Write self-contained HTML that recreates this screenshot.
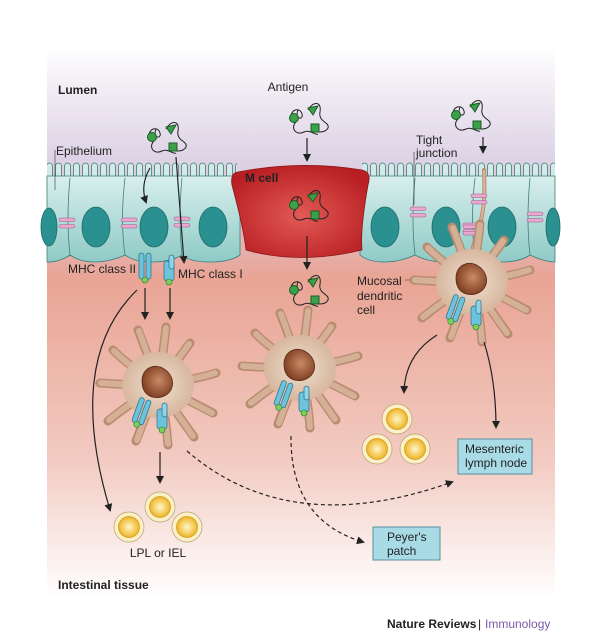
<!DOCTYPE html>
<html><head><meta charset="utf-8"><style>
html,body{margin:0;padding:0;background:#fff;width:600px;height:637px;overflow:hidden}
svg{display:block}
text{font-family:"Liberation Sans",Arial,sans-serif;font-size:12px;fill:#222}
</style></head><body>
<svg width="600" height="637" viewBox="0 0 600 637" xmlns="http://www.w3.org/2000/svg">
<defs>
<linearGradient id="bg" x1="0" y1="0" x2="0" y2="1">
<stop offset="0" stop-color="#ffffff"/><stop offset="0.06" stop-color="#f4f0f6"/>
<stop offset="0.2" stop-color="#ddd3e6"/><stop offset="0.34" stop-color="#e4b6b8"/>
<stop offset="0.42" stop-color="#e9a494"/><stop offset="0.75" stop-color="#f2cbc2"/>
<stop offset="1" stop-color="#ffffff"/></linearGradient>
<linearGradient id="ep" x1="0" y1="0" x2="0" y2="1">
<stop offset="0" stop-color="#d8efed"/><stop offset="1" stop-color="#8fcac6"/></linearGradient>
<radialGradient id="mc" cx="0.5" cy="0.55" r="0.6"><stop offset="0" stop-color="#e25a55"/><stop offset="1" stop-color="#b81e22"/></radialGradient>
<radialGradient id="nuc" cx="0.55" cy="0.45" r="0.6"><stop offset="0" stop-color="#c98a66"/><stop offset="1" stop-color="#7a3a1e"/></radialGradient>
<radialGradient id="dcb" cx="0.5" cy="0.5" r="0.6"><stop offset="0" stop-color="#f0e0d0"/><stop offset="1" stop-color="#d2ae94"/></radialGradient>
<radialGradient id="ly" cx="0.5" cy="0.5" r="0.5"><stop offset="0" stop-color="#fff6c8"/><stop offset="0.8" stop-color="#f2c040"/><stop offset="1" stop-color="#d9a020"/></radialGradient>
<pattern id="mv" x="0" y="0" width="9" height="20" patternUnits="userSpaceOnUse">
<path d="M1.5 20 V6 a3 3 0 0 1 6 0 V20" fill="#cfeae7" stroke="#3f7f7c" stroke-width="0.8"/></pattern>
<marker id="ah" markerWidth="8" markerHeight="8" refX="6" refY="4" orient="auto" markerUnits="userSpaceOnUse"><path d="M0 0 L8 4 L0 8 z" fill="#222"/></marker>
<g id="ag">
<path d="M-18 2 c-4-10 8-14 10-6 c2 6 -8 6 -4-4 M-2-8 c4-8 14-10 12 2 c-2 10 10 10 8 16 c-3 6-14 4-16 2 M-14 4 c-6 6 0 14 8 10 c6-3 12 4 14 2" fill="none" stroke="#222" stroke-width="1"/>
<circle cx="-16" cy="0" r="4.5" fill="#3aa04a" stroke="#1d5a24"/>
<rect x="1" y="6" width="8" height="8" fill="#3aa04a" stroke="#1d5a24"/>
<path d="M-2-10 L8-12 L3-3 z" fill="#3aa04a" stroke="#1d5a24"/>
</g>
<g id="mhc2"><rect x="-6" y="0" width="5" height="26" rx="2.5" fill="#6cc3dc" stroke="#2a6f86" stroke-width="0.7"/><rect x="1" y="0" width="5" height="26" rx="2.5" fill="#6cc3dc" stroke="#2a6f86" stroke-width="0.7"/><circle cx="0" cy="27" r="3" fill="#7ad05a" stroke="#2a7a2a" stroke-width="0.6"/></g>
<g id="mhc1"><rect x="-5" y="6" width="10" height="20" rx="3" fill="#6cc3dc" stroke="#2a6f86" stroke-width="0.7"/><rect x="0" y="0" width="5" height="14" rx="2.5" fill="#8fd3e6" stroke="#2a6f86" stroke-width="0.7"/><circle cx="0" cy="27" r="3" fill="#7ad05a" stroke="#2a7a2a" stroke-width="0.6"/></g>
<g id="dc">
<g stroke="#b98c70" stroke-width="9" stroke-linecap="round" fill="none">
<path d="M0 0 Q-30-20 -45-35"/><path d="M0 0 Q-10-30 -20-55"/><path d="M0 0 Q5-30 8-58"/><path d="M0 0 Q20-25 32-42"/><path d="M0 0 Q35-5 58-12"/><path d="M0 0 Q30 15 55 28"/><path d="M0 0 Q20 30 36 52"/><path d="M0 0 Q8 30 10 60"/><path d="M0 0 Q-12 30 -22 56"/><path d="M0 0 Q-30 20 -50 36"/><path d="M0 0 Q-30 0 -58 -2"/>
</g>
<g stroke="#d4b096" stroke-width="6" stroke-linecap="round" fill="none">
<path d="M0 0 Q-30-20 -44-34"/><path d="M0 0 Q-10-30 -19-54"/><path d="M0 0 Q5-30 8-57"/><path d="M0 0 Q20-25 31-41"/><path d="M0 0 Q35-5 57-12"/><path d="M0 0 Q30 15 54 28"/><path d="M0 0 Q20 30 35 51"/><path d="M0 0 Q8 30 10 59"/><path d="M0 0 Q-12 30 -21 55"/><path d="M0 0 Q-30 20 -49 35"/><path d="M0 0 Q-30 0 -57 -2"/>
</g>
<ellipse rx="36" ry="33" fill="url(#dcb)"/>
<path d="M-16-4 c0-14 14-18 22-12 c10 6 12 20 2 26 c-10 6-24 2-24-14z" fill="url(#nuc)" stroke="#5a2a14" stroke-width="0.8"/>
<g transform="translate(-12,14) rotate(20)"><use href="#mhc2"/></g>
<g transform="translate(4,18)"><use href="#mhc1"/></g>
</g>
<g id="ly1"><circle r="15" fill="#fbf0c8" stroke="#b8a070" stroke-width="0.7"/><circle r="11" fill="url(#ly)"/></g>
<g id="tj"><rect x="-8" y="-5" width="16" height="3.5" rx="1.5" fill="#e8a8d0" stroke="#9a5a86" stroke-width="0.5"/><rect x="-8" y="1.5" width="16" height="3.5" rx="1.5" fill="#e8a8d0" stroke="#9a5a86" stroke-width="0.5"/></g>
</defs>

<rect x="47" y="48" width="508" height="550" fill="url(#bg)"/>

<!-- epithelium -->
<rect x="47" y="160" width="190" height="20" fill="url(#mv)"/>
<rect x="362" y="160" width="193" height="20" fill="url(#mv)"/>
<path d="M47 176 H240 V255 Q230 262 210 262 Q190 262 182 255 Q170 262 152 262 Q135 262 125 255 Q110 262 95 262 Q80 262 70 255 Q60 262 47 262 Z" fill="url(#ep)" stroke="#3f7f7c" stroke-width="0.8"/>
<path d="M360 176 H555 V262 Q545 262 530 255 Q520 262 502 262 Q485 262 475 255 Q462 262 445 262 Q428 262 415 255 Q400 262 385 262 Q368 262 360 255 Z" fill="url(#ep)" stroke="#3f7f7c" stroke-width="0.8"/>
<g stroke="#3f7f7c" stroke-width="0.8" fill="none">
<path d="M70 178 Q66 220 70 255"/><path d="M125 178 Q120 220 125 255"/><path d="M182 178 Q178 220 182 255"/>
<path d="M415 178 Q411 220 415 255"/><path d="M475 178 Q470 220 475 255"/><path d="M530 178 Q526 220 530 255"/>
</g>
<g fill="#2a9090" stroke="#1e6a6a" stroke-width="0.8">
<ellipse cx="49" cy="227" rx="8" ry="19"/><ellipse cx="96" cy="227" rx="14" ry="20"/><ellipse cx="154" cy="227" rx="14" ry="20"/><ellipse cx="213" cy="227" rx="14" ry="20"/>
<ellipse cx="385" cy="227" rx="14" ry="20"/><ellipse cx="446" cy="227" rx="14" ry="20"/><ellipse cx="502" cy="227" rx="14" ry="20"/><ellipse cx="553" cy="227" rx="7" ry="19"/>
</g>
<use href="#tj" x="67" y="223"/><use href="#tj" x="129" y="223"/><use href="#tj" x="182" y="222"/>
<use href="#tj" x="418" y="212"/><use href="#tj" x="471" y="228"/><use href="#tj" x="535" y="217"/>
<!-- M cell -->
<path d="M238 172 Q300 160 362 170 Q372 172 368 185 Q360 230 362 250 Q300 265 246 250 Q244 230 232 185 Q230 173 238 172 Z" fill="url(#mc)" stroke="#8a1a1a" stroke-width="0.8"/>

<!-- labels -->
<text x="58" y="94" font-weight="bold">Lumen</text>
<text x="288" y="91" text-anchor="middle">Antigen</text>
<text x="56" y="155">Epithelium</text>
<path d="M55 150 V190" stroke="#333" stroke-width="0.6"/>
<text x="416" y="144">Tight</text><text x="416" y="157">junction</text>
<path d="M414 152 V205" stroke="#333" stroke-width="0.6"/>
<text x="245" y="182" font-weight="bold">M cell</text>
<text x="68" y="273">MHC class II</text>
<text x="178" y="278">MHC class I</text>
<text x="357" y="285">Mucosal</text><text x="357" y="300">dendritic</text><text x="357" y="314">cell</text>
<path d="M405 280 H425" stroke="#333" stroke-width="0.6"/>
<text x="158" y="557" text-anchor="middle">LPL or IEL</text>
<text x="58" y="589" font-weight="bold">Intestinal tissue</text>

<!-- antigens -->
<use href="#ag" x="168" y="137"/><use href="#ag" x="310" y="118"/><use href="#ag" x="472" y="115"/>
<use href="#ag" x="310" y="205"/><use href="#ag" x="310" y="290"/>

<!-- DC3 process through epithelium -->
<path d="M484 170 Q486 210 478 230 Q470 255 470 265" stroke="#b88a6e" stroke-width="4" fill="none" stroke-linecap="round"/>
<path d="M484 170 Q486 210 478 230 Q470 255 470 265" stroke="#dcb8a0" stroke-width="2" fill="none"/>
<use href="#tj" x="479" y="199"/><use href="#tj" x="471" y="230"/>

<!-- MHC on epithelium -->
<use href="#mhc2" x="145" y="253"/><use href="#mhc1" x="169" y="255"/>

<!-- dendritic cells -->
<use href="#dc" x="158" y="385"/>
<use href="#dc" x="300" y="368"/>
<use href="#dc" x="472" y="282"/>

<!-- lymphocytes -->
<use href="#ly1" x="129" y="527"/><use href="#ly1" x="160" y="507"/><use href="#ly1" x="187" y="527"/>
<use href="#ly1" x="397" y="419"/><use href="#ly1" x="377" y="449"/><use href="#ly1" x="415" y="449"/>

<!-- boxes -->
<rect x="458" y="439" width="74" height="35" fill="#a9dbe6" stroke="#5a8f9c"/>
<text x="465" y="453">Mesenteric</text><text x="465" y="467">lymph node</text>
<rect x="373" y="527" width="67" height="33" fill="#a9dbe6" stroke="#5a8f9c"/>
<text x="387" y="541">Peyer's</text><text x="387" y="555">patch</text>

<!-- arrows -->
<g stroke="#222" stroke-width="1.2" fill="none" marker-end="url(#ah)">
<path d="M307 138 V160"/><path d="M307 236 V268"/><path d="M483 137 V152"/>
<path d="M150 168 Q140 185 146 202"/><path d="M176 157 L184 262"/>
<path d="M145 288 V318"/><path d="M170 288 V318"/>
<path d="M137 290 Q65 360 110 510"/>
<path d="M160 452 V482"/>
<path d="M437 335 Q405 355 404 392"/>
<path d="M484 342 Q496 380 496 427"/>
<path d="M187 451 Q290 540 452 482" stroke-dasharray="4 3"/>
<path d="M291 436 Q290 520 363 542" stroke-dasharray="4 3"/>
</g>

<!-- footer -->
<text x="387" y="628" font-weight="bold" font-size="11.5">Nature Reviews</text>
<text x="478" y="628" font-size="12">|</text>
<text x="485" y="628" font-size="11.5" style="fill:#7a5aa8">Immunology</text>
</svg>
</body></html>
